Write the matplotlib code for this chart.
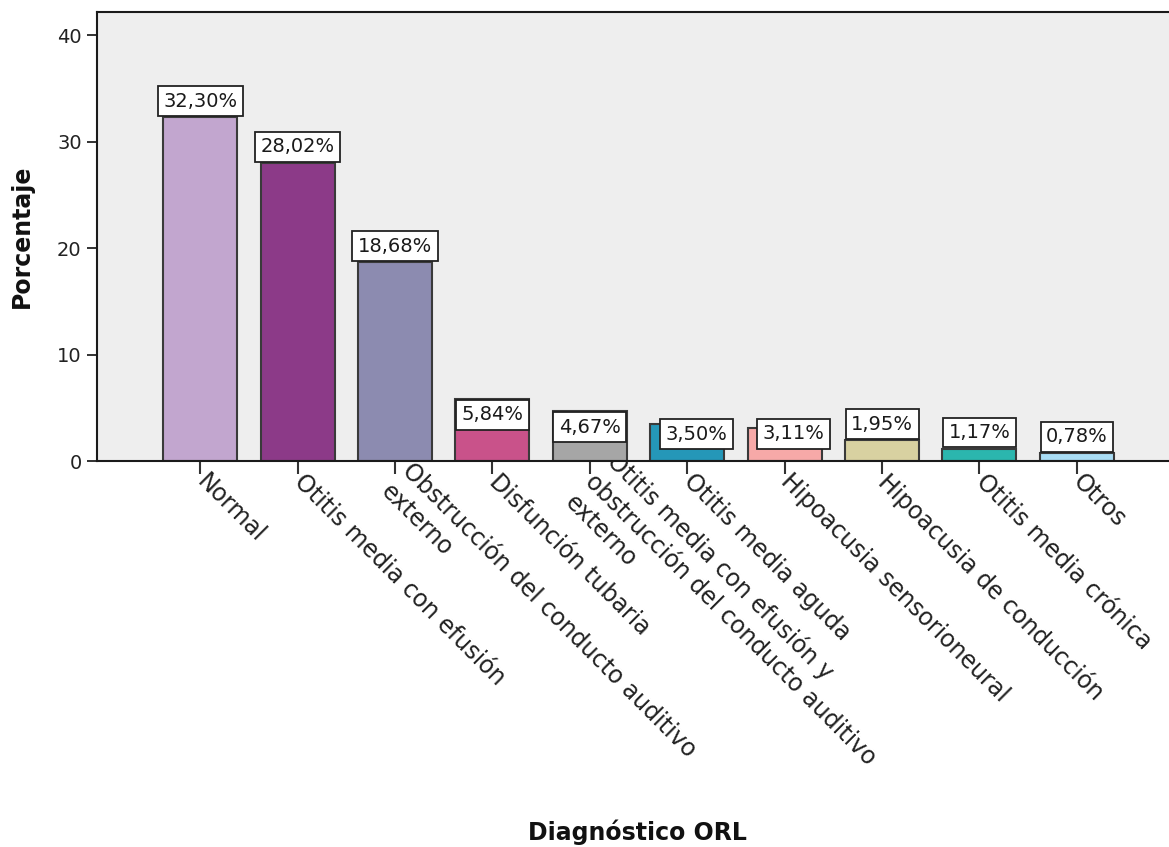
import matplotlib
matplotlib.use("Agg")
import matplotlib.pyplot as plt
from matplotlib.transforms import offset_copy

# Diagnósticos ORL y su porcentaje
categorias = [
    "Normal",
    "Otitis media con efusión",
    "Obstrucción del conducto auditivo\nexterno",
    "Disfunción tubaria",
    "Otitis media con efusión y\nobstrucción del conducto auditivo\nexterno",
    "Otitis media aguda",
    "Hipoacusia sensorioneural",
    "Hipoacusia de conducción",
    "Otitis media crónica",
    "Otros",
]
porcentajes = [32.30, 28.02, 18.68, 5.84, 4.67, 3.50, 3.11, 1.95, 1.17, 0.78]
etiquetas = ["32,30%", "28,02%", "18,68%", "5,84%", "4,67%",
             "3,50%", "3,11%", "1,95%", "1,17%", "0,78%"]
y_ticks = [0, 10, 20, 30, 40]

colores = ["#C2A6CF", "#8C3A88", "#8C8BB0", "#C9528A", "#A6A6A6",
           "#2597B8", "#F7A9A8", "#D8D1A1", "#2BB6AE", "#A9DDF5"]

# desplazamiento (px) de cada caja de etiqueta respecto al tope de su barra
label_dx = [0, 0, 0, 0, 0, 9.5, 9, 0, 0, 0]
label_dy = [16, 16, 16, -16, -16, -10.5, -6, 16, 16, 16]

plt.rcParams['font.family'] = ['DejaVu Sans']

W, H = 1169, 847
fig = plt.figure(figsize=(W / 100, H / 100), dpi=100)
ax = fig.add_axes([97 / W, 1 - 461 / H, (W - 97) / W + 0.002, (461 - 12) / H])
ax.set_facecolor("#EEEEEE")

x = list(range(len(categorias)))
ax.bar(x, porcentajes, width=0.76, color=colores, edgecolor="#3a3a3a",
       linewidth=1.5, zorder=2)

for i, (v, t) in enumerate(zip(porcentajes, etiquetas)):
    tr = offset_copy(ax.transData, fig=fig, x=label_dx[i], y=label_dy[i], units='dots')
    ax.text(i, v, t, transform=tr, ha='center', va='center', fontsize=14,
            color="#1a1a1a", zorder=4,
            bbox=dict(boxstyle="square,pad=0.28", facecolor="white",
                      edgecolor="#222222", linewidth=1.3))

ax.set_xlim(-1.06, 9.97)
ax.set_ylim(0, 42.2)
ax.set_yticks(y_ticks)
ax.tick_params(axis='y', labelsize=14, length=7, width=1.3, pad=4,
               colors="#222222")
ax.set_xticks(x)
ax.set_xticklabels(categorias, rotation=-45, ha='left', va='center',
                   rotation_mode='anchor', fontsize=17, color="#222222",
                   linespacing=1.3)
ax.tick_params(axis='x', length=9, width=1.5, pad=3, color="#333333")

for s in ['left', 'bottom', 'top']:
    ax.spines[s].set_linewidth(1.5)
    ax.spines[s].set_color("#1a1a1a")
ax.spines['right'].set_visible(False)

fig.text(22 / W, 1 - 236 / H, "Porcentaje", rotation=90, ha='center',
         va='center', fontsize=17, fontweight='bold', color="#111111")
fig.text(637 / W, 1 - 832 / H, "Diagnóstico ORL", ha='center', va='center',
         fontsize=17, fontweight='bold', color="#111111")

fig.savefig("out.png", dpi=100)
